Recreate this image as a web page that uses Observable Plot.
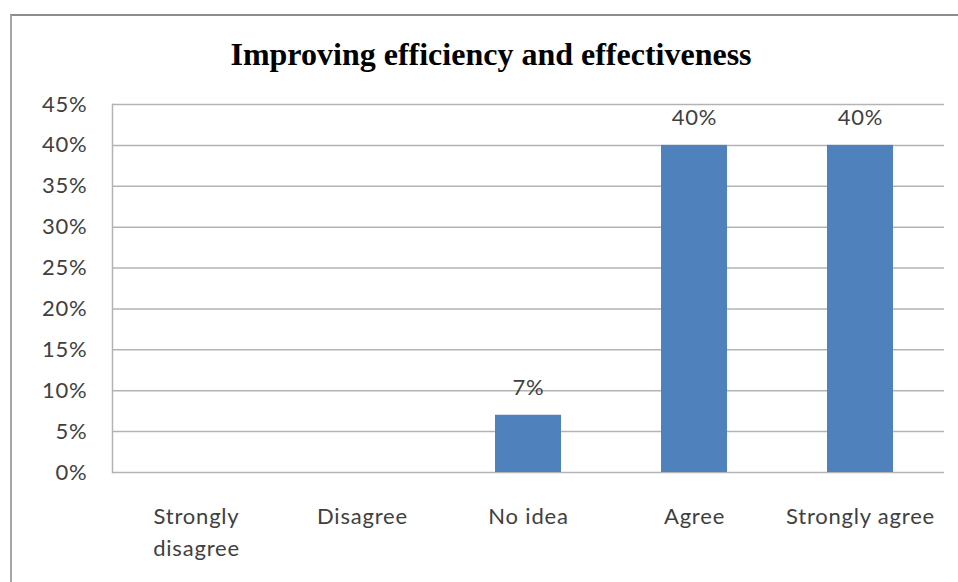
<!DOCTYPE html>
<html>
<head>
<meta charset="utf-8">
<script src="https://cdn.jsdelivr.net/npm/d3@7"></script>
<script src="https://cdn.jsdelivr.net/npm/@observablehq/plot@0.6"></script>
<style>
  html, body { margin: 0; padding: 0; background: #fff; }
  body { width: 958px; height: 582px; position: relative; overflow: hidden; }
  #frame {
    position: absolute; left: 10px; top: 14px; width: 980px; height: 600px;
    border-top: 2px solid #8c8c8c; border-left: 2px solid #a6a6a6;
    box-sizing: border-box;
  }
  #title {
    position: absolute; left: 10px; top: 34px; width: 962px;
    text-align: center; line-height: 40px;
    font-family: "Liberation Serif", "DejaVu Serif", serif;
    font-weight: bold; font-size: 32px; color: #000;
  }
  #chart { position: absolute; left: 0; top: 90px; }
</style>
</head>
<body>
<div id="frame"></div>
<div id="title">Improving efficiency and effectiveness</div>
<div id="chart"></div>
<script>
// Survey answers and their shares
const answers = ["Strongly disagree", "Disagree", "No idea", "Agree", "Strongly agree"];
const shares = [0, 0, 0.07, 0.40, 0.40];
const answerLabels = ["Strongly\ndisagree", "Disagree", "No idea", "Agree", "Strongly agree"];
const yTicks = [0, 0.05, 0.10, 0.15, 0.20, 0.25, 0.30, 0.35, 0.40, 0.45];

const data = answers.map((answer, i) => ({answer, share: shares[i]}));
const labelOf = new Map(answers.map((a, i) => [a, answerLabels[i]]));
const pct = d3.format(".0%");

const gridColor = "#b3b3b3";
const textColor = "#404040";
const font = "Lato, 'Open Sans', sans-serif";

const chart = Plot.plot({
  width: 958,
  height: 492,
  marginLeft: 112,
  marginRight: 14,
  marginTop: 14,
  marginBottom: 110,
  style: {fontFamily: font, letterSpacing: "0.8px", background: "transparent", overflow: "visible"},
  x: {domain: answers, paddingInner: 0.6, paddingOuter: 0.3},
  y: {domain: [0, 0.45]},
  marks: [
    Plot.ruleY(yTicks, {stroke: gridColor, strokeWidth: 1.5}),
    Plot.frame({anchor: "left", stroke: gridColor, strokeWidth: 1.5}),
    Plot.barY(data, {x: "answer", y: "share", fill: "#4f81bd"}),
    Plot.text(data.filter(d => d.share > 0), {
      x: "answer", y: "share", text: d => pct(d.share),
      dy: -27, fontSize: 22, fill: textColor
    }),
    Plot.axisY({
      ticks: yTicks, tickFormat: pct, tickSize: 0, tickPadding: 25,
      fontSize: 22, color: textColor, label: null
    }),
    Plot.axisX({
      tickSize: 0, tickPadding: 29, tickFormat: d => labelOf.get(d),
      fontSize: 22, lineHeight: 1.45, color: textColor, label: null
    })
  ]
});
document.getElementById("chart").append(chart);
</script>
</body>
</html>
